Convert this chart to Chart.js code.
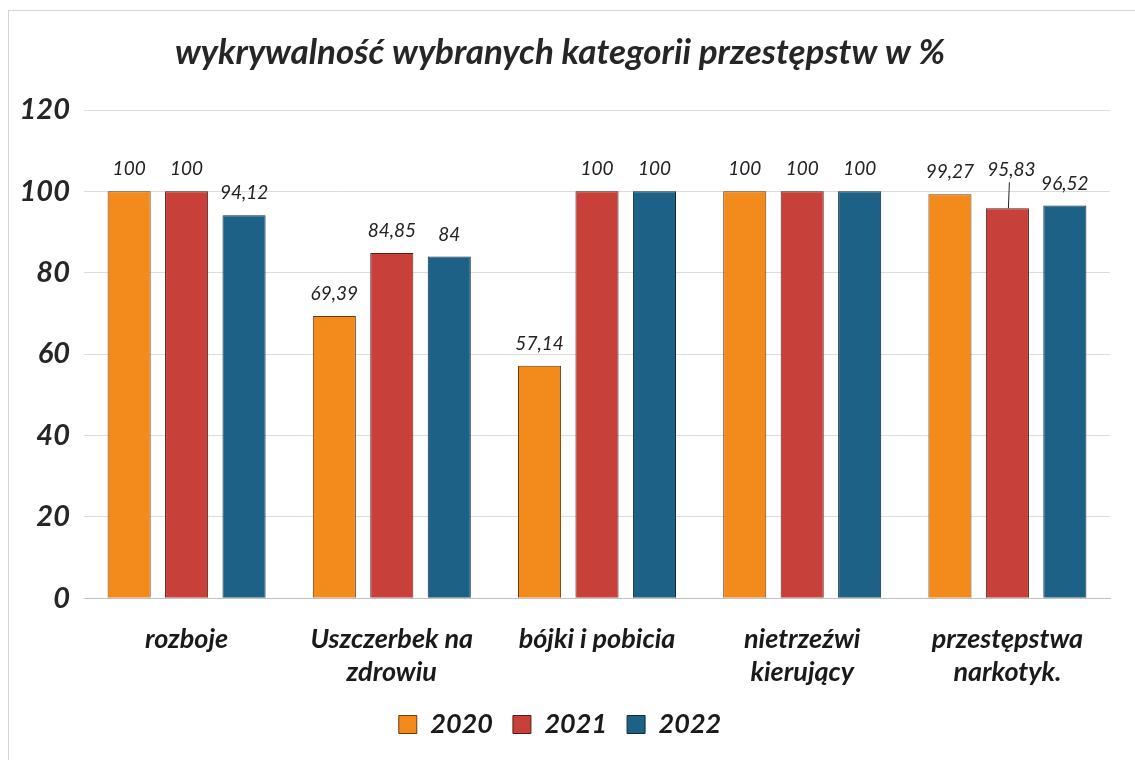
<!DOCTYPE html>
<html>
<head>
<meta charset="utf-8">
<script src="https://cdn.jsdelivr.net/npm/chart.js@4"></script>
<style>
  html, body { margin: 0; padding: 0; background: #fff; }
  #wrap { position: relative; width: 1135px; height: 760px; }
  #frame { position: absolute; left: 8px; top: 10px; right: -2px; bottom: -2px; border: 1px solid #d4d4d4; }
</style>
</head>
<body>
<div id="wrap">
  <div id="frame"></div>
  <canvas id="chart" width="1135" height="760"></canvas>
</div>
<script>
// data
const categories = [
  'rozboje',
  ['Uszczerbek na', 'zdrowiu'],
  'bójki i pobicia',
  ['nietrzeźwi', 'kierujący'],
  ['przestępstwa', 'narkotyk.']
];
const years = ['2020', '2021', '2022'];
const values2020 = [100, 69.39, 57.14, 100, 99.27];
const values2021 = [100, 84.85, 100, 100, 95.83];
const values2022 = [94.12, 84, 100, 100, 96.52];
const yTicks = [0, 20, 40, 60, 80, 100, 120];

const FONT = 'Lato, "Open Sans", sans-serif';

// value labels above bars (decimal comma); a label that would crowd
// the one on its left is lifted and tied to its bar with a leader line
const valueLabels = {
  id: 'valueLabels',
  afterDatasetsDraw(chart) {
    const ctx = chart.ctx;
    ctx.save();
    ctx.font = 'italic 19px ' + FONT;
    ctx.textAlign = 'center';
    ctx.textBaseline = 'middle';
    const n = chart.data.labels.length;
    for (let j = 0; j < n; j++) {
      let prev = null;
      chart.data.datasets.forEach((ds, i) => {
        const bar = chart.getDatasetMeta(i).data[j];
        const txt = String(ds.data[j]).replace('.', ',');
        const w = ctx.measureText(txt).width;
        let x = bar.x;
        let y = bar.y - 22;
        let lifted = false;
        if (prev && !prev.lifted && x - w / 2 < prev.right + 10 && Math.abs(y - prev.y) < 20) {
          lifted = true;
          y = prev.y - 2;
          x = bar.x + 4;
          ctx.strokeStyle = '#222';
          ctx.lineWidth = 1;
          ctx.beginPath();
          ctx.moveTo(bar.x + 2, y + 12);
          ctx.lineTo(bar.x + 1, bar.y);
          ctx.stroke();
        }
        ctx.fillStyle = '#222';
        ctx.fillText(txt, x, y);
        prev = { right: x + w / 2, y: y, lifted: lifted };
      });
    }
    ctx.restore();
  }
};

new Chart(document.getElementById('chart'), {
  type: 'bar',
  data: {
    labels: categories,
    datasets: [
      { label: years[0], data: values2020, backgroundColor: '#F28A1C', borderColor: '#6b3a10' },
      { label: years[1], data: values2021, backgroundColor: '#C8403A', borderColor: '#5a1a16' },
      { label: years[2], data: values2022, backgroundColor: '#1E6186', borderColor: '#0e2c3e' }
    ].map(d => Object.assign(d, { borderWidth: 1, categoryPercentage: 0.84, barPercentage: 0.75 }))
  },
  options: {
    responsive: false,
    animation: false,
    layout: { padding: { left: 10, right: 25, top: 0, bottom: 12 } },
    plugins: {
      title: {
        display: true,
        text: 'wykrywalność wybranych kategorii przestępstw w %',
        color: '#262626',
        font: { family: FONT, size: 35, style: 'italic', weight: 'bold' },
        padding: { top: 32, bottom: 36 }
      },
      legend: {
        position: 'bottom',
        labels: {
          color: '#1a1a1a',
          font: { family: FONT, size: 27, style: 'italic', weight: 'bold' },
          boxWidth: 18,
          boxHeight: 18,
          padding: 20
        }
      },
      tooltip: { enabled: false }
    },
    scales: {
      x: {
        afterFit(axis) { axis.height -= 14; },
        grid: { display: false },
        border: { color: '#bfbfbf' },
        ticks: {
          color: '#1a1a1a',
          font: { family: FONT, size: 27, style: 'italic', weight: 'bold' },
          padding: 17,
          maxRotation: 0
        }
      },
      y: {
        min: 0,
        max: 120,
        afterBuildTicks(axis) { axis.ticks = yTicks.map(v => ({ value: v })); },
        afterFit(axis) { axis.width = 74; },
        grid: { color: '#dcdcdc', drawTicks: false },
        border: { display: false },
        ticks: {
          color: '#262626',
          font: { family: FONT, size: 29, style: 'italic', weight: 'bold' },
          padding: 14
        }
      }
    }
  },
  plugins: [valueLabels]
});
</script>
</body>
</html>
